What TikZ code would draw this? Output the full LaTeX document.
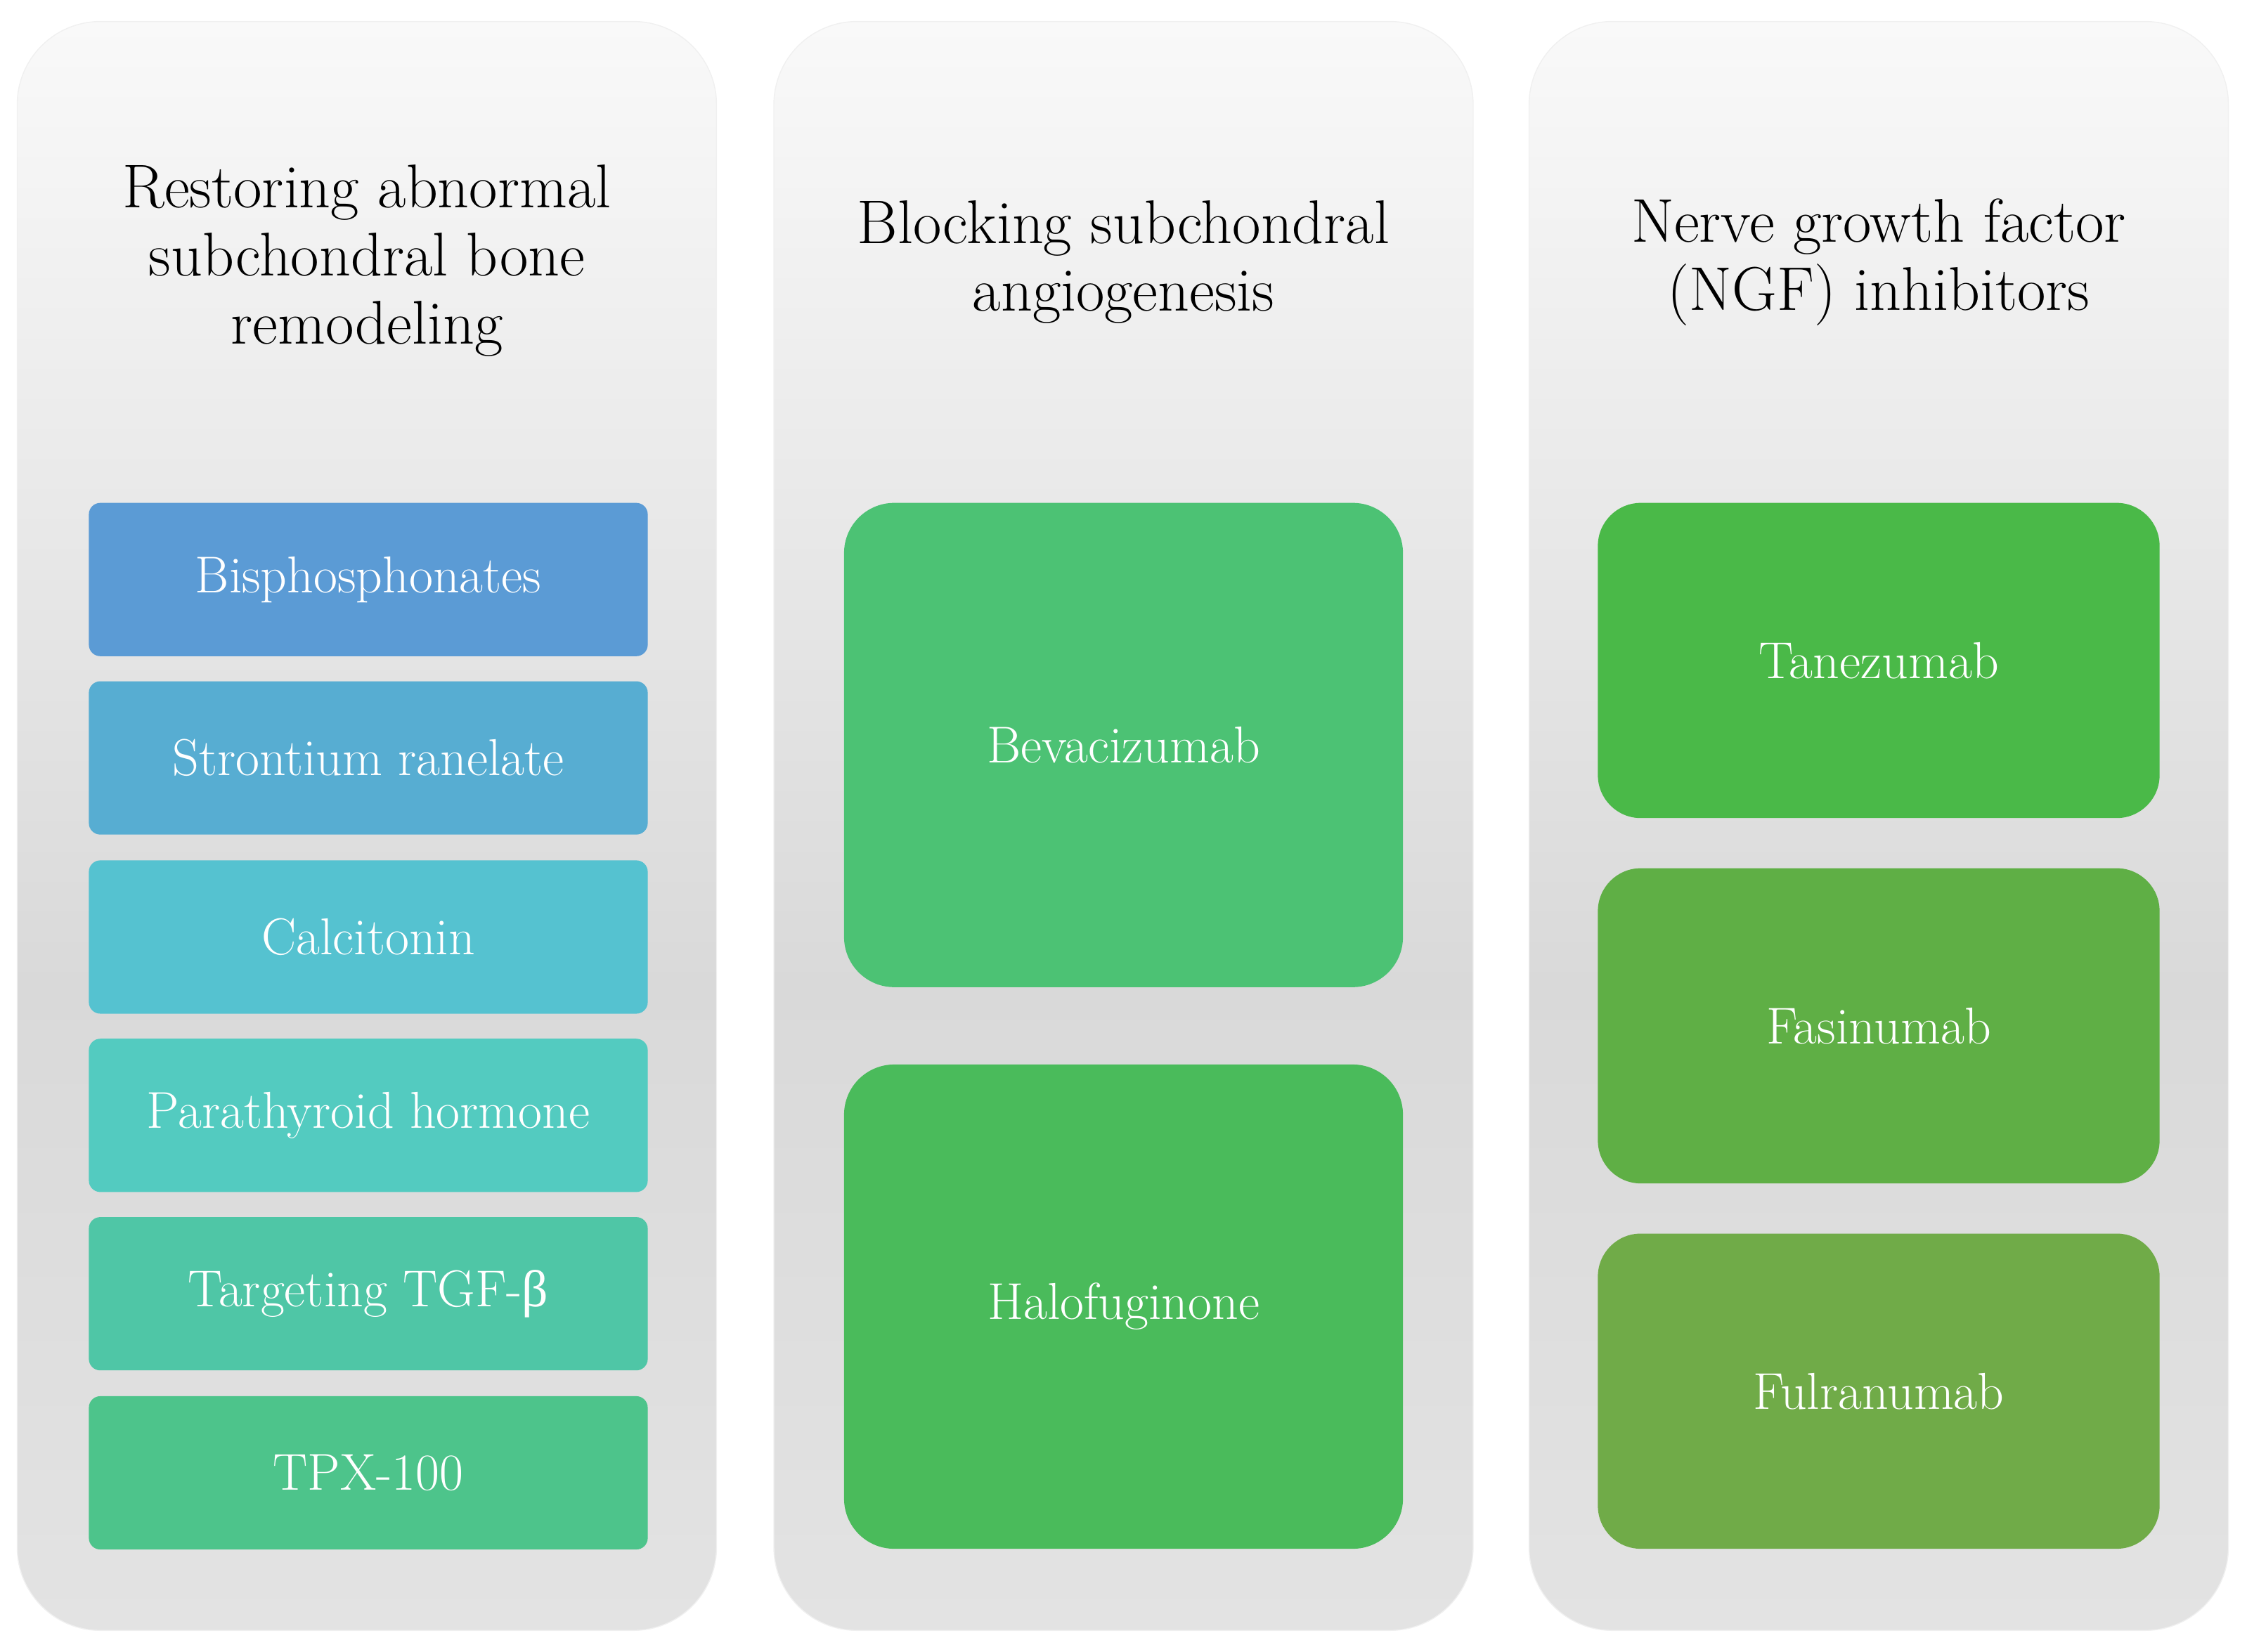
\documentclass[tikz,border=0pt]{standalone}
\usepackage{fontspec}
\usepackage{tikz}
\usetikzlibrary{shapes}
\newfontfamily\grkfont{Liberation Serif}
\newlength{\pxu}
\setlength{\pxu}{0.2039mm}
\newcommand{\headfont}{\fontsize{25}{27.5}\selectfont}
\newcommand{\itemfont}{\fontsize{21}{24}\selectfont}
\definecolor{colTop}{HTML}{F9F9F9}
\definecolor{colMid}{HTML}{D9D9D9}
\definecolor{colBot}{HTML}{E3E3E3}
\definecolor{bisph}{HTML}{5B9BD5}
\definecolor{stront}{HTML}{57ADD2}
\definecolor{calci}{HTML}{55C2D0}
\definecolor{parath}{HTML}{53CBC0}
\definecolor{tgfb}{HTML}{4FC6A6}
\definecolor{tpx}{HTML}{4DC48B}
\definecolor{bevac}{HTML}{4CC274}
\definecolor{halof}{HTML}{4ABB5B}
\definecolor{tanez}{HTML}{4AB948}
\definecolor{fasin}{HTML}{5FAF45}
\definecolor{fulran}{HTML}{70AB48}
\pgfdeclareverticalshading{colshade}{100bp}{color(0bp)=(colBot); color(25bp)=(colBot); color(45bp)=(colMid); color(75bp)=(colTop); color(100bp)=(colTop)}

\begin{document}
\begin{tikzpicture}[x=\pxu,y=-\pxu,
  column/.style={rectangle,rounded corners=58\pxu,shading=colshade,draw=white!94!black,line width=0.4pt,minimum width=488\pxu,minimum height=1123\pxu,inner sep=0pt},
  heading/.style={align=center,font=\headfont,text=black},
  thin box/.style={rectangle,rounded corners=8\pxu,minimum width=390\pxu,minimum height=107\pxu,text=white,font=\itemfont,inner sep=0pt},
  big box/.style={rectangle,rounded corners=35\pxu,minimum width=390\pxu,minimum height=338\pxu,text=white,font=\itemfont,inner sep=0pt},
  mid box/.style={rectangle,rounded corners=30\pxu,minimum width=392\pxu,minimum height=220\pxu,text=white,font=\itemfont,inner sep=0pt}]

\useasboundingbox (0,0) rectangle (1568,1153);

\node[column] (remodcol) at (256,576.5) {};
\node[column] (angiocol) at (784,576.5) {};
\node[column] (ngfcol) at (1311,576.5) {};

\node[heading] (remodhead) at (256,182) {Restoring abnormal\\subchondral bone\\remodeling};
\node[heading] (angiohead) at (784,183) {Blocking subchondral\\angiogenesis};
\node[heading] (ngfhead) at (1311,183) {Nerve growth factor\\(NGF) inhibitors};

\node[thin box,fill=bisph] (bisphos) at (257,404.5) {Bisphosphonates};
\node[thin box,fill=stront] (strontium) at (257,529) {Strontium ranelate};
\node[thin box,fill=calci] (calcitonin) at (257,654) {Calcitonin};
\node[thin box,fill=parath] (pth) at (257,778.5) {Parathyroid hormone};
\node[thin box,fill=tgfb] (tgfbeta) at (257,903) {Targeting TGF-{\grkfont β}};
\node[thin box,fill=tpx] (tpxhundred) at (257,1028) {TPX-100};

\node[big box,fill=bevac] (bevacizumab) at (784,520) {Bevacizumab};
\node[big box,fill=halof] (halofuginone) at (784,912) {Halofuginone};

\node[mid box,fill=tanez] (tanezumab) at (1311,461) {Tanezumab};
\node[mid box,fill=fasin] (fasinumab) at (1311,716) {Fasinumab};
\node[mid box,fill=fulran] (fulranumab) at (1311,971) {Fulranumab};

\end{tikzpicture}
\end{document}
